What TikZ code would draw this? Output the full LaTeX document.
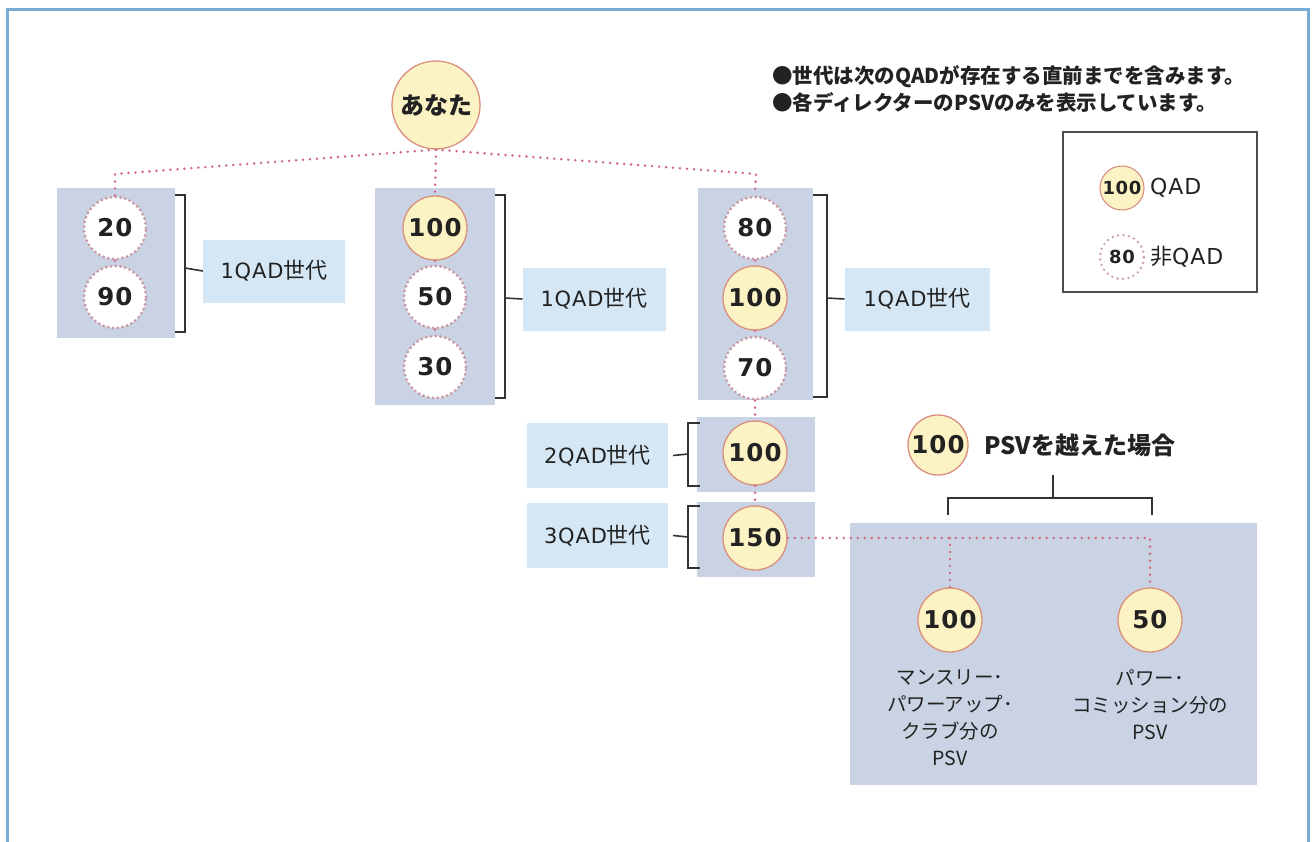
\documentclass[tikz,border=0pt]{standalone}
\usepackage{fontspec}
\setmainfont{Noto Sans CJK JP}
\newfontfamily\lat{DejaVu Sans}[LetterSpace=4]
\newfontfamily\num{DejaVu Sans Bold}[LetterSpace=4]
\begin{document}
\definecolor{panel}{HTML}{C9D3E3}
\definecolor{lblue}{HTML}{D5E7F4}
\definecolor{qadfill}{HTML}{FBF3C4}
\definecolor{qadline}{HTML}{DA8F7E}
\definecolor{dotc}{HTML}{D26A80}
\definecolor{gearc}{HTML}{C99AA6}
\definecolor{framec}{HTML}{78ACD5}
\definecolor{brk}{HTML}{333333}
\definecolor{txt}{HTML}{222222}
\begin{tikzpicture}[x=1pt,y=-1pt,
  lbl/.style={fill=lblue, inner sep=0pt, text=txt, font=\fontsize{22}{22}\selectfont},
  qad/.style={circle, draw=qadline, line width=1.3pt, fill=qadfill, minimum size=64pt, inner sep=0pt, text=txt, font=\num\fontsize{24.5}{24.5}\selectfont},
  nonqad/.style={circle, draw=gearc, line width=3.2pt, dash pattern=on 0pt off 4.8pt, line cap=round, fill=white, minimum size=62pt, inner sep=0pt, text=txt, font=\num\fontsize{24.5}{24.5}\selectfont},
  conn/.style={draw=dotc, line width=2.8pt, line cap=round, dash pattern=on 0pt off 7pt},
  brkt/.style={draw=brk, line width=1.6pt},
  txtnode/.style={text=txt, inner sep=0pt}
]
\useasboundingbox (0,0) rectangle (1314,841);
\fill[white] (0,0) rectangle (1314,841);
% outer frame
\draw[framec, line width=3pt] (7,845) -- (7,9) -- (1308,9) -- (1308,845);

% panels
\fill[panel] (57,188) rectangle (175,338);
\fill[panel] (375,188) rectangle (495,405);
\fill[panel] (698,188) rectangle (813,400);
\fill[panel] (697,417) rectangle (815,492);
\fill[panel] (697,502) rectangle (815,577);
\fill[panel] (850,523) rectangle (1257,785);

% label boxes
\node[lbl, minimum width=142pt, minimum height=63pt] (l1) at (274,271) {{\lat\fontsize{21}{21}\selectfont 1QAD}世代};
\node[lbl, minimum width=143pt, minimum height=63pt] (l2) at (594,299) {{\lat\fontsize{21}{21}\selectfont 1QAD}世代};
\node[lbl, minimum width=145pt, minimum height=63pt] (l3) at (917,299) {{\lat\fontsize{21}{21}\selectfont 1QAD}世代};
\node[lbl, minimum width=141pt, minimum height=65pt] (l4) at (597.5,455.5) {{\lat\fontsize{21}{21}\selectfont 2QAD}世代};
\node[lbl, minimum width=141pt, minimum height=65pt] (l5) at (597.5,535.5) {{\lat\fontsize{21}{21}\selectfont 3QAD}世代};

% top node
\node[qad, minimum size=88pt, font=\bfseries\fontsize{24}{24}\selectfont] (you) at (436,105) {あなた};

% left column
\node[nonqad] (n20) at (115,228) {20};
\node[nonqad] (n90) at (115,297) {90};
% middle column
\node[qad] (m100) at (435,228) {100};
\node[nonqad] (m50) at (435,297) {50};
\node[nonqad] (m30) at (435,367) {30};
% right column
\node[nonqad] (r80) at (755,228) {80};
\node[qad] (r100) at (755,298) {100};
\node[nonqad] (r70) at (755,368) {70};
\node[qad] (q2) at (755,453) {100};
\node[qad] (q3) at (755,538) {150};

% connectors
\coordinate (lc) at (115,174);
\coordinate (rc) at (756,174);
\draw[conn] (n20.north) -- (lc) -- (you.south) -- (rc) -- (r80.north);
\draw[conn] (you.south) -- (m100.north);
\draw[conn] (n20) -- (n90);
\draw[conn] (m100) -- (m50) -- (m30);
\draw[conn] (r80) -- (r100) -- (r70) -- (q2) -- (q3);

% brackets
\draw[brkt] (175,195) -- (185,195) -- (185,332) -- (175,332);
\draw[brkt] (185,268) -- (l1.west);
\draw[brkt] (495,195) -- (505,195) -- (505,398) -- (495,398);
\draw[brkt] (505,298) -- (l2.west);
\draw[brkt] (813,195) -- (827,195) -- (827,397) -- (813,397);
\draw[brkt] (827,298) -- (l3.west);
\draw[brkt] (700,423) -- (688,423) -- (688,486) -- (700,486);
\draw[brkt] (688,454) -- ([xshift=5pt]l4.east);
\draw[brkt] (700,506) -- (688,506) -- (688,568) -- (700,568);
\draw[brkt] (688,537) -- ([xshift=5pt]l5.east);

% PSV exceeded section
\node[qad, minimum size=60pt] (hdr) at (938,445) {100};
\node[txtnode, anchor=west, font=\bfseries\fontsize{24}{24}\selectfont] (hdrt) at (984,445) {PSVを越えた場合};
\draw[brkt] (1053,475) -- (1053,498);
\draw[brkt] (948,515) -- (948,498) -- (1152,498) -- (1152,515);

\node[qad] (b100) at (950,620) {100};
\node[qad] (b50) at (1150,620) {50};
\coordinate (bh1) at (950,538);
\coordinate (bh2) at (1150,538);
\draw[conn] (q3.east) -- (bh2) -- (b50.north);
\draw[conn] (bh1) -- (b100.north);

\node[txtnode, align=center, font=\fontsize{19.5}{27}\selectfont] (t100) at (950,718) {マンスリー･\\パワーアップ･\\クラブ分の\\PSV};
\node[txtnode, align=center, font=\fontsize{19.5}{27}\selectfont] (t50) at (1150,704.5) {パワー･\\コミッション分の\\PSV};

% notes
\node[txtnode, anchor=west, font=\bfseries\fontsize{20.5}{20.5}\selectfont] (note1) at (772,77) {●世代は次のQADが存在する直前までを含みます。};
\node[txtnode, anchor=west, font=\bfseries\fontsize{20.5}{20.5}\selectfont] (note2) at (772,102) {●各ディレクターのPSVのみを表示しています。};

% legend
\draw[draw=black!70, line width=1.3pt] (1063,132) rectangle (1257,292);
\node[qad, minimum size=44pt, line width=1.1pt, font=\num\fontsize{18}{18}\selectfont] (lq) at (1122,188) {100};
\node[txtnode, anchor=west, font=\lat\fontsize{22}{22}\selectfont] (lqt) at (1150,188) {QAD};
\node[nonqad, minimum size=44pt, line width=2.6pt, dash pattern=on 0pt off 5.5pt, font=\num\fontsize{18}{18}\selectfont] (ln) at (1122,257) {80};
\node[txtnode, anchor=west, font=\fontsize{22}{22}\selectfont] (lnt) at (1150,257) {非{\lat QAD}};
\end{tikzpicture}
\end{document}
